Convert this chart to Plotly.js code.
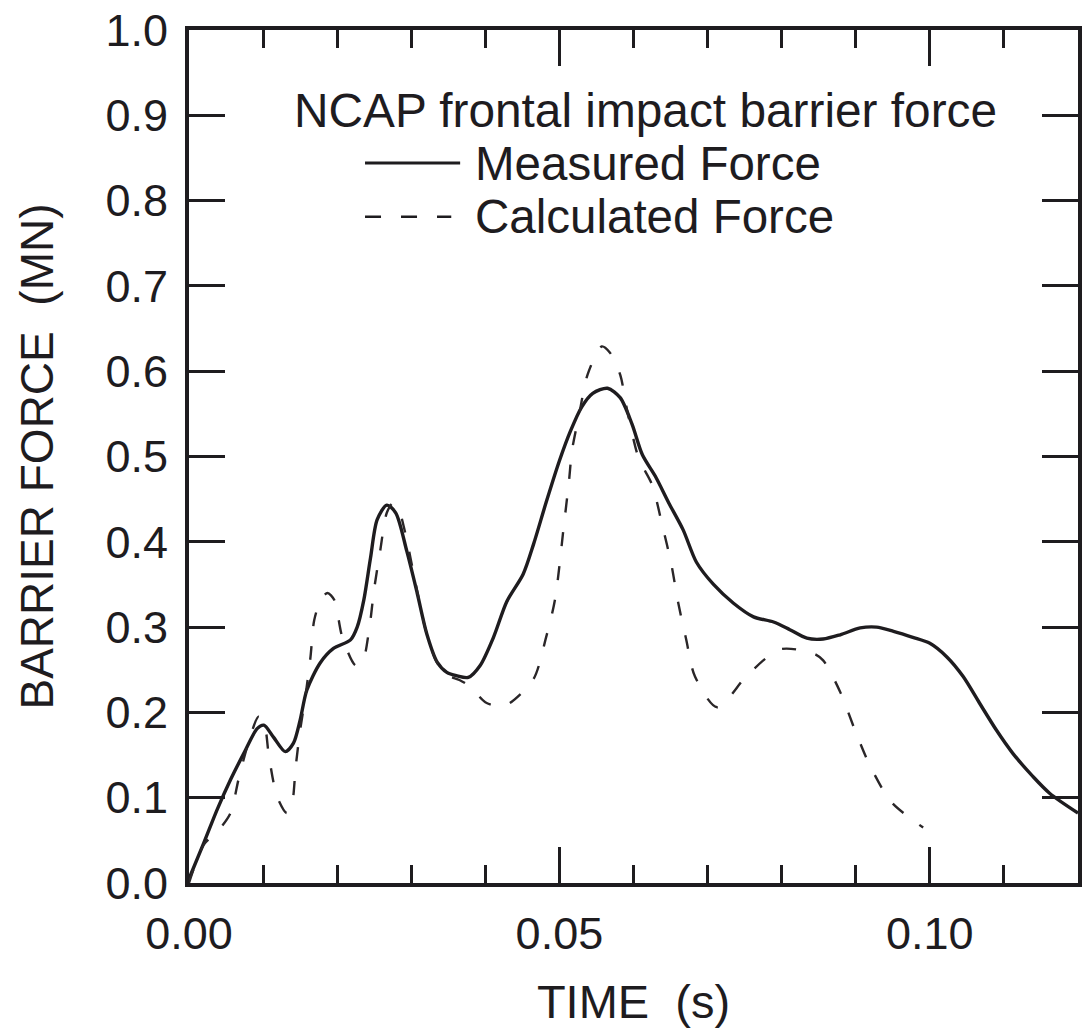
<!DOCTYPE html>
<html>
<head>
<meta charset="utf-8">
<script src="https://cdn.plot.ly/plotly-3.0.1.min.js"></script>
<style>html,body{margin:0;padding:0;background:#fff;}#chart{width:1085px;height:1035px;}</style>
</head>
<body>
<div id="chart"></div>
<script>
// Measured barrier force (solid line)
const timeMeasured = [0, 0.002, 0.0038, 0.0056, 0.0074, 0.0092, 0.0101, 0.0114, 0.013, 0.0141, 0.015, 0.0159, 0.0177, 0.0195, 0.0218, 0.0227, 0.0236, 0.0245, 0.0254, 0.0267, 0.0279, 0.0294, 0.0308, 0.0321, 0.0335, 0.0348, 0.0361, 0.0377, 0.0393, 0.0411, 0.0429, 0.0451, 0.0465, 0.0482, 0.05, 0.0515, 0.053, 0.0545, 0.0565, 0.0582, 0.0598, 0.0612, 0.063, 0.0648, 0.0667, 0.0685, 0.0708, 0.0735, 0.0762, 0.0789, 0.0811, 0.0834, 0.0856, 0.0879, 0.0906, 0.0928, 0.0951, 0.0977, 0.1, 0.1023, 0.1045, 0.1067, 0.109, 0.1112, 0.1139, 0.1162, 0.12];
const forceMeasured = [0.005, 0.047, 0.086, 0.121, 0.152, 0.181, 0.185, 0.171, 0.154, 0.164, 0.191, 0.226, 0.258, 0.275, 0.285, 0.300, 0.332, 0.381, 0.426, 0.443, 0.434, 0.389, 0.340, 0.292, 0.259, 0.247, 0.243, 0.241, 0.255, 0.288, 0.330, 0.362, 0.397, 0.446, 0.495, 0.530, 0.558, 0.574, 0.580, 0.569, 0.538, 0.502, 0.476, 0.445, 0.414, 0.376, 0.350, 0.328, 0.312, 0.306, 0.297, 0.287, 0.286, 0.291, 0.299, 0.300, 0.295, 0.288, 0.281, 0.265, 0.242, 0.211, 0.179, 0.152, 0.125, 0.105, 0.082];

// Calculated barrier force (dashed line)
const timeCalculated = [0, 0.002, 0.004, 0.0056, 0.0067, 0.0082, 0.0094, 0.0102, 0.0108, 0.0119, 0.0132, 0.0139, 0.0144, 0.015, 0.0157, 0.0164, 0.0169, 0.0178, 0.0187, 0.0196, 0.0207, 0.0225, 0.0234, 0.0243, 0.025, 0.0258, 0.0267, 0.0275, 0.0283, 0.0292, 0.0305, 0.032, 0.0335, 0.035, 0.0365, 0.038, 0.040, 0.042, 0.0433, 0.0465, 0.0482, 0.0494, 0.0506, 0.0513, 0.0517, 0.0527, 0.0538, 0.0557, 0.0568, 0.0582, 0.0591, 0.0607, 0.0625, 0.0639, 0.0651, 0.066, 0.0671, 0.0683, 0.0713, 0.0754, 0.0798, 0.0843, 0.0856, 0.0879, 0.0899, 0.0919, 0.0948, 0.0991];
const forceCalculated = [0, 0.045, 0.062, 0.082, 0.122, 0.170, 0.195, 0.185, 0.148, 0.101, 0.082, 0.093, 0.136, 0.179, 0.218, 0.265, 0.308, 0.332, 0.340, 0.332, 0.288, 0.255, 0.259, 0.296, 0.345, 0.389, 0.434, 0.445, 0.438, 0.410, 0.355, 0.295, 0.258, 0.243, 0.238, 0.230, 0.212, 0.207, 0.211, 0.239, 0.288, 0.332, 0.419, 0.472, 0.507, 0.551, 0.596, 0.629, 0.622, 0.596, 0.556, 0.498, 0.467, 0.419, 0.374, 0.330, 0.286, 0.242, 0.206, 0.244, 0.274, 0.269, 0.261, 0.224, 0.179, 0.138, 0.095, 0.065];

const legendTitle = 'NCAP frontal impact barrier force';
const seriesNames = ['Measured Force', 'Calculated Force'];
const xTitle = 'TIME  (s)';
const yTitle = 'BARRIER FORCE  (MN)';

const ink = '#1e1c1f';
const fontFamily = '"Liberation Sans", Arial, sans-serif';

const traces = [
  {
    x: timeMeasured, y: forceMeasured, name: seriesNames[0], type: 'scatter', mode: 'lines',
    line: {color: ink, width: 3.4, shape: 'spline', smoothing: 0.8}
  },
  {
    x: timeCalculated, y: forceCalculated, name: seriesNames[1], type: 'scatter', mode: 'lines',
    line: {color: '#2a2628', width: 2.4, dash: '14px,20px', shape: 'spline', smoothing: 0.8}
  }
];

const layout = {
  width: 1085, height: 1035,
  margin: {l: 189, r: 7, t: 30, b: 152},
  paper_bgcolor: '#ffffff', plot_bgcolor: '#ffffff',
  showlegend: false,
  font: {family: fontFamily, color: ink, size: 45},
  xaxis: {
    range: [0, 0.12], tick0: 0, dtick: 0.05, tickformat: '.2f',
    ticks: 'inside', ticklen: 36, tickwidth: 3, tickcolor: ink,
    minor: {dtick: 0.01, tick0: 0, ticks: 'inside', ticklen: 18, tickwidth: 3, tickcolor: ink, showgrid: false},
    showline: true, linewidth: 4, linecolor: ink, mirror: 'ticks',
    showgrid: false, zeroline: false,
    tickfont: {size: 45, family: fontFamily, color: ink},
    ticklabelstandoff: 8,
    title: {text: xTitle, font: {size: 47, family: fontFamily, color: ink}, standoff: 28}
  },
  yaxis: {
    range: [0, 1.0], tick0: 0, dtick: 0.1, tickformat: '.1f',
    ticks: 'inside', ticklen: 36, tickwidth: 3, tickcolor: ink,
    showline: true, linewidth: 4, linecolor: ink, mirror: 'ticks',
    showgrid: false, zeroline: false,
    tickfont: {size: 45, family: fontFamily, color: ink},
    ticklabelstandoff: 8,
    title: {text: yTitle, font: {size: 46, family: fontFamily, color: ink}, standoff: 38}
  },
  annotations: [
    {xref: 'paper', yref: 'paper', x: 0.116, y: 0.906, xanchor: 'left', yanchor: 'middle', showarrow: false,
     text: legendTitle, font: {size: 47.8, family: fontFamily, color: ink}},
    {xref: 'paper', yref: 'paper', x: 0.320, y: 0.844, xanchor: 'left', yanchor: 'middle', showarrow: false,
     text: seriesNames[0], font: {size: 47.5, family: fontFamily, color: ink}},
    {xref: 'paper', yref: 'paper', x: 0.320, y: 0.781, xanchor: 'left', yanchor: 'middle', showarrow: false,
     text: seriesNames[1], font: {size: 47.5, family: fontFamily, color: ink}}
  ],
  shapes: [
    {type: 'line', xref: 'paper', yref: 'paper', x0: 0.198, x1: 0.305, y0: 0.844, y1: 0.844,
     line: {color: ink, width: 3}},
    {type: 'line', xref: 'paper', yref: 'paper', x0: 0.198, x1: 0.295, y0: 0.781, y1: 0.781,
     line: {color: ink, width: 2.4, dash: '16px,20px'}}
  ]
};

Plotly.newPlot('chart', traces, layout, {displayModeBar: false, staticPlot: true});
</script>
</body>
</html>
